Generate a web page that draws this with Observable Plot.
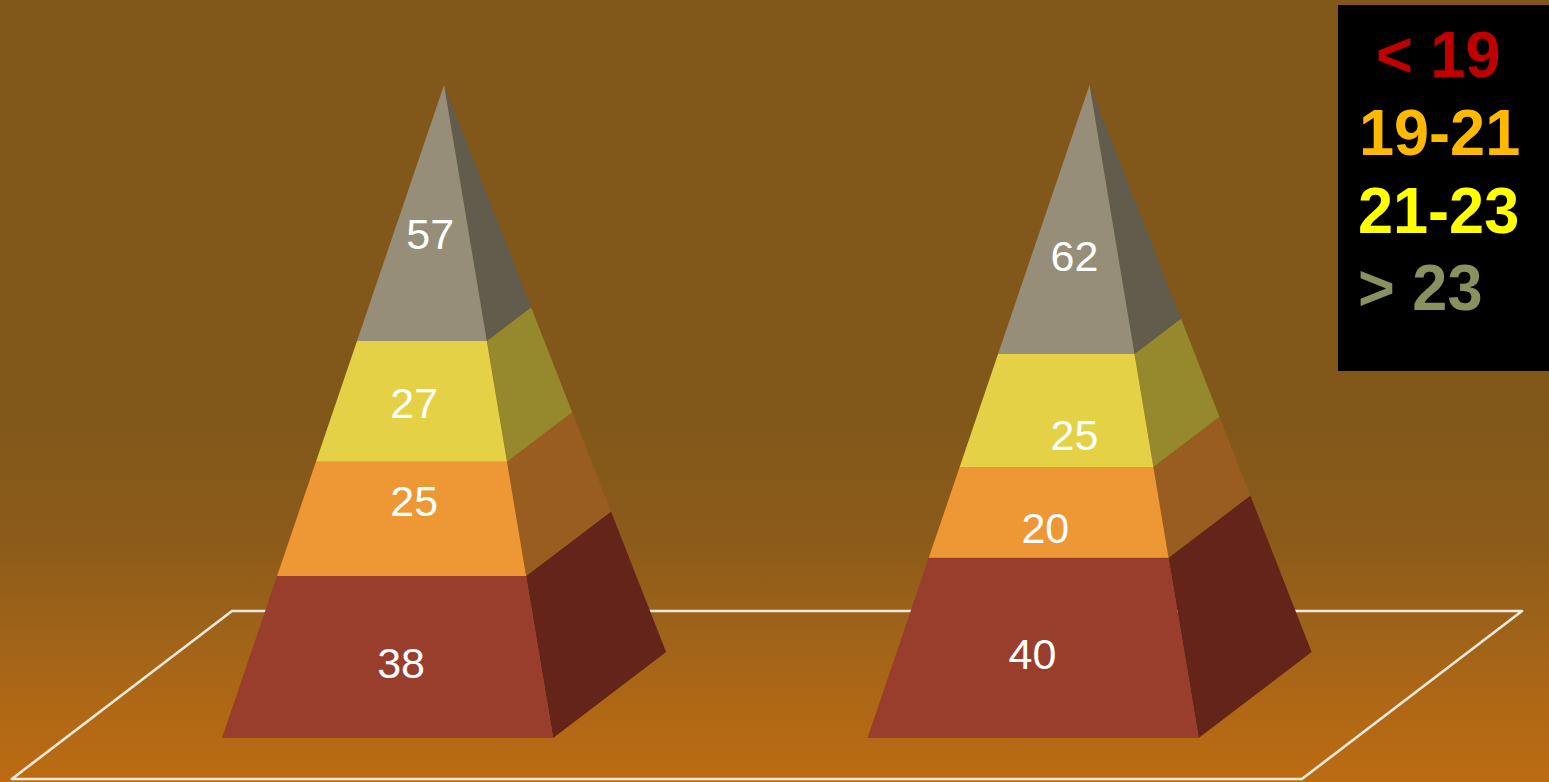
<!DOCTYPE html>
<html>
<head>
<meta charset="utf-8">
<script src="https://cdn.jsdelivr.net/npm/d3@7"></script>
<script src="https://cdn.jsdelivr.net/npm/@observablehq/plot@0.6"></script>
<style>
html,body{margin:0;padding:0;width:1549px;height:782px;overflow:hidden}
body{position:relative;background:linear-gradient(to bottom,#82581a 0px,#82581a 430px,#8c5b19 540px,#9c621a 620px,#b06815 710px,#bc6b13 782px)}
#legend{position:absolute;left:1338px;top:5px;width:211px;height:366px;background:#000;font:bold 64px "Liberation Sans",Arial,sans-serif}
#legend div{position:absolute;line-height:64px;white-space:pre;transform:scaleX(0.985);transform-origin:left center}
</style>
</head>
<body>
<div id="chart"></div>
<div id="legend"></div>
<script>
// Data
const pyramids = [0, 1];
const bandKeys = ["under19", "from19to21", "from21to23", "over23"];
const valuesA = [38, 25, 27, 57];
const valuesB = [40, 20, 25, 62];
// Drawn share of the pyramid height taken by each band (percent)
const sharesA = [24.8, 17.5, 18.5, 39.2];
const sharesB = [27.6, 13.9, 17.3, 41.2];
const legendLabels = ["< 19", "19-21", "21-23", "> 23"];

// Styles
const frontColors = ["#993d2d", "#ee9835", "#e4d146", "#968e79"];
const sideColors = ["#65241a", "#9a5d20", "#96882c", "#625c4d"];
const legendColors = ["#c00000", "#ffb900", "#ffff00", "#87925f"];
const legendPlace = [[38, 18], [21, 96], [20, 174], [20, 251]];

// Pyramid shape, in scale units
const baseWidth = 0.513, depthX = 0.175, depthY = 13.17, apexX = 0.344;
const floorCorners = [[0.0155, 19.45], [2.014, 19.45], [1.673, -6.28], [-0.3256, -6.28], [0.0155, 19.45]];
// Label placement: horizontal position inside each pyramid, height in percent
const labelX = [[0.2775, 0.2977, 0.2977, 0.3225], [0.2555, 0.2755, 0.3205, 0.3205]];
const labelY = [[11.3, 36.1, 51.1, 77], [12.6, 32, 46.2, 73.7]];

const lerp = (a, b, t) => a + (b - a) * t;
const faces = [];
const texts = [];
pyramids.forEach((p, i) => {
  const shares = i === 0 ? sharesA : sharesB;
  const values = i === 0 ? valuesA : valuesB;
  const front = t => [p + lerp(baseWidth, apexX, t), 100 * t];
  const frontL = t => [p + lerp(0, apexX, t), 100 * t];
  const back = t => [p + lerp(baseWidth + depthX, apexX, t), lerp(depthY, 100, t)];
  let low = 0;
  bandKeys.forEach((band, j) => {
    const high = low + shares[j] / 100;
    const add = (kind, fill, pts) => pts.forEach(([x, y]) => faces.push({id: `${i}-${band}-${kind}`, x, y, fill}));
    add("side", sideColors[j], [front(low), back(low), back(high), front(high)]);
    add("front", frontColors[j], [frontL(low), front(low), front(high), frontL(high)]);
    texts.push({x: p + labelX[i][j], y: labelY[i][j], value: values[j]});
    low = high;
  });
});
const floor = floorCorners.map(([x, y]) => ({x, y}));

const plot = Plot.plot({
  width: 1549,
  height: 782,
  margin: 0,
  style: {background: "transparent"},
  x: {domain: [0, 1], range: [221.5, 867], axis: null},
  y: {domain: [0, 100], range: [737.5, 84.5], axis: null},
  marks: [
    Plot.line(floor, {x: "x", y: "y", stroke: "#f3e9da", strokeWidth: 2.6, curve: "linear"}),
    Plot.line(faces, {x: "x", y: "y", z: "id", fill: "fill", stroke: "none", curve: "linear"}),
    Plot.text(texts, {x: "x", y: "y", text: "value", fill: "white", fontSize: 43, fontFamily: "Liberation Sans, Arial, sans-serif", textAnchor: "middle", lineAnchor: "middle"})
  ]
});
document.getElementById("chart").appendChild(plot);

const legend = document.getElementById("legend");
legendLabels.forEach((label, i) => {
  const d = document.createElement("div");
  d.textContent = label;
  d.style.color = legendColors[i];
  d.style.left = legendPlace[i][0] + "px";
  d.style.top = legendPlace[i][1] + "px";
  legend.appendChild(d);
});
</script>
</body>
</html>
